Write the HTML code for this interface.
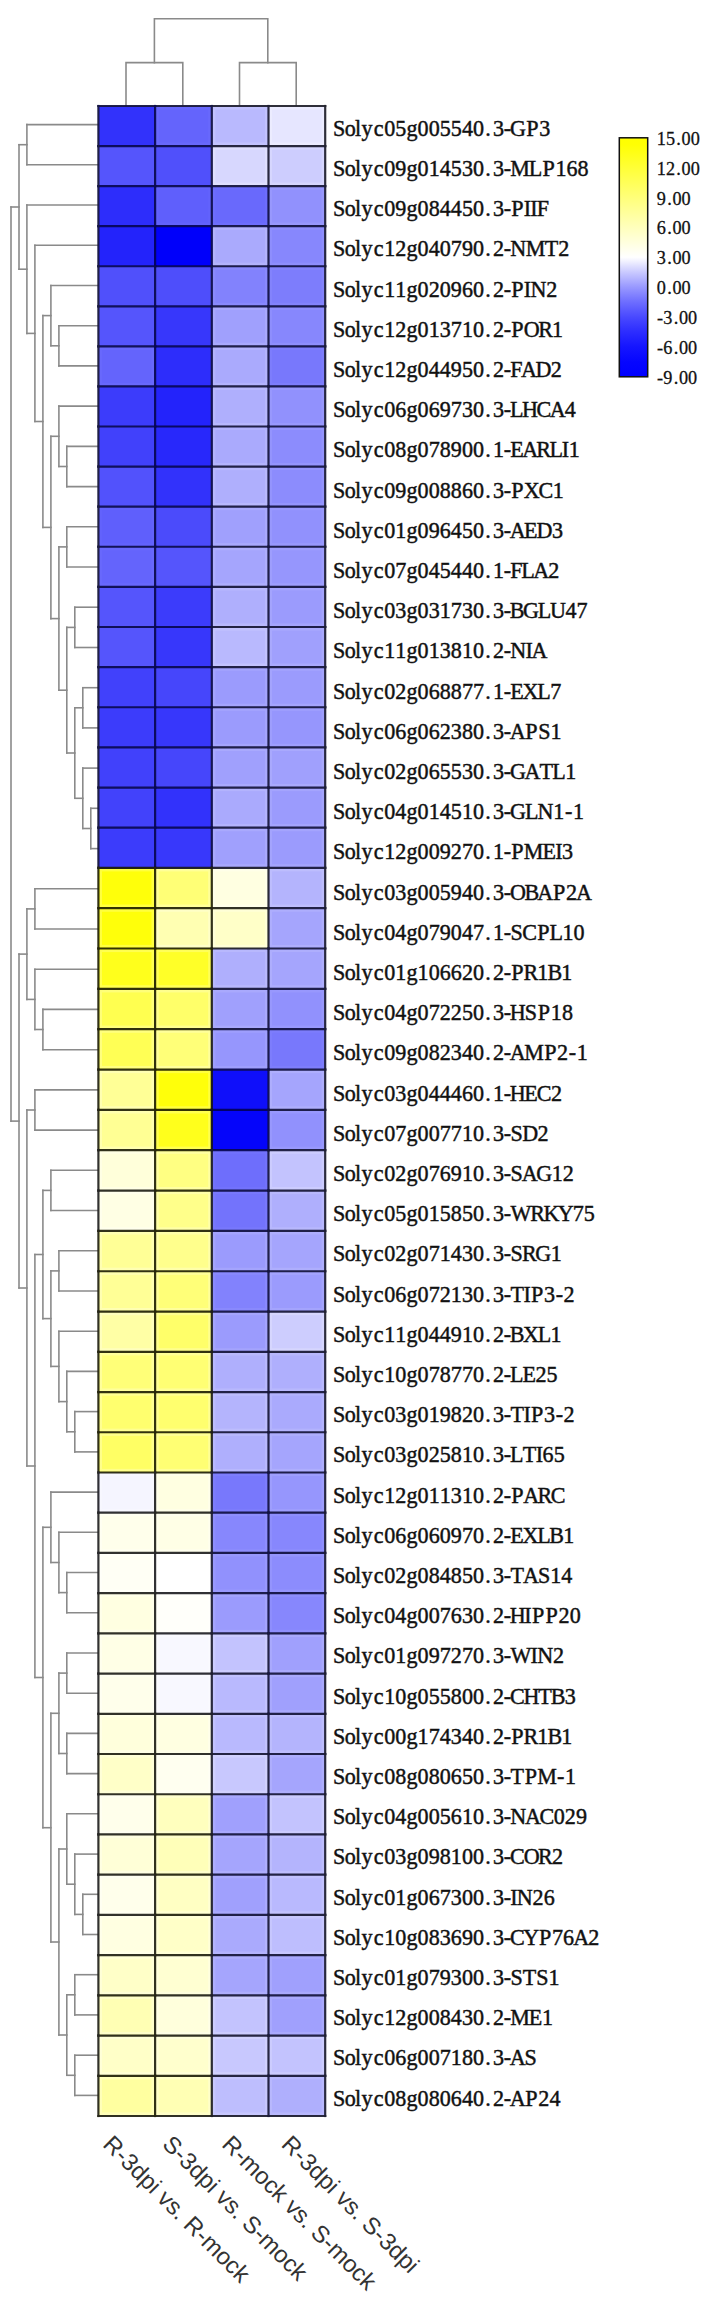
<!DOCTYPE html>
<html lang="en"><head><meta charset="utf-8"><title>Heatmap</title>
<style>html,body{margin:0;padding:0;background:#fff}svg{display:block}.rl{font-family:"Liberation Serif",serif;font-size:23.0px;fill:#111;stroke:#111;stroke-width:0.45px}.cl{font-family:"Liberation Sans",sans-serif;font-size:23.8px;fill:#333}.sl{font-family:"Liberation Serif",serif;font-size:19.6px;fill:#111;stroke:#111;stroke-width:0.3px}</style></head><body>
<svg width="707" height="2302" viewBox="0 0 707 2302">
<rect width="707" height="2302" fill="#fff"/>
<defs><linearGradient id="lg" x1="0" y1="0" x2="0" y2="1"><stop offset="0.0000" stop-color="#ffff00"/><stop offset="0.0300" stop-color="#ffff04"/><stop offset="0.5000" stop-color="#ffffff"/><stop offset="0.5625" stop-color="#c9c9ff"/><stop offset="0.6250" stop-color="#9898ff"/><stop offset="0.6875" stop-color="#6d6dff"/><stop offset="0.7500" stop-color="#4949ff"/><stop offset="0.8125" stop-color="#2c2cff"/><stop offset="0.8750" stop-color="#1515ff"/><stop offset="0.9375" stop-color="#0606ff"/><stop offset="1.0000" stop-color="#0000ff"/></linearGradient></defs>
<g stroke="#8a8a8a" stroke-width="1.6" fill="none" stroke-linecap="square">
<path d="M26.9 124.6L98.4 124.6"/>
<path d="M26.9 164.8L98.4 164.8"/>
<path d="M26.9 124.6L26.9 164.8"/>
<path d="M19.0 144.7L26.9 144.7"/>
<path d="M26.9 205.0L98.4 205.0"/>
<path d="M34.9 245.3L98.4 245.3"/>
<path d="M50.9 285.5L98.4 285.5"/>
<path d="M58.9 325.7L98.4 325.7"/>
<path d="M58.9 365.9L98.4 365.9"/>
<path d="M58.9 325.7L58.9 365.9"/>
<path d="M50.9 345.8L58.9 345.8"/>
<path d="M50.9 285.5L50.9 345.8"/>
<path d="M42.9 315.6L50.9 315.6"/>
<path d="M58.9 406.1L98.4 406.1"/>
<path d="M66.8 446.4L98.4 446.4"/>
<path d="M66.8 486.6L98.4 486.6"/>
<path d="M66.8 446.4L66.8 486.6"/>
<path d="M58.9 466.5L66.8 466.5"/>
<path d="M58.9 406.1L58.9 466.5"/>
<path d="M50.9 436.3L58.9 436.3"/>
<path d="M66.8 526.8L98.4 526.8"/>
<path d="M66.8 567.0L98.4 567.0"/>
<path d="M66.8 526.8L66.8 567.0"/>
<path d="M58.9 546.9L66.8 546.9"/>
<path d="M74.8 607.2L98.4 607.2"/>
<path d="M74.8 647.5L98.4 647.5"/>
<path d="M74.8 607.2L74.8 647.5"/>
<path d="M66.8 627.4L74.8 627.4"/>
<path d="M82.8 687.7L98.4 687.7"/>
<path d="M82.8 727.9L98.4 727.9"/>
<path d="M82.8 687.7L82.8 727.9"/>
<path d="M74.8 707.8L82.8 707.8"/>
<path d="M82.8 768.1L98.4 768.1"/>
<path d="M90.8 808.3L98.4 808.3"/>
<path d="M90.8 848.6L98.4 848.6"/>
<path d="M90.8 808.3L90.8 848.6"/>
<path d="M82.8 828.5L90.8 828.5"/>
<path d="M82.8 768.1L82.8 828.5"/>
<path d="M74.8 798.3L82.8 798.3"/>
<path d="M74.8 707.8L74.8 798.3"/>
<path d="M66.8 753.0L74.8 753.0"/>
<path d="M66.8 627.4L66.8 753.0"/>
<path d="M58.9 690.2L66.8 690.2"/>
<path d="M58.9 546.9L58.9 690.2"/>
<path d="M50.9 618.6L58.9 618.6"/>
<path d="M50.9 436.3L50.9 618.6"/>
<path d="M42.9 527.4L50.9 527.4"/>
<path d="M42.9 315.6L42.9 527.4"/>
<path d="M34.9 421.5L42.9 421.5"/>
<path d="M34.9 245.3L34.9 421.5"/>
<path d="M26.9 333.4L34.9 333.4"/>
<path d="M26.9 205.0L26.9 333.4"/>
<path d="M19.0 269.2L26.9 269.2"/>
<path d="M19.0 144.7L19.0 269.2"/>
<path d="M11.0 207.0L19.0 207.0"/>
<path d="M34.9 888.8L98.4 888.8"/>
<path d="M34.9 929.0L98.4 929.0"/>
<path d="M34.9 888.8L34.9 929.0"/>
<path d="M26.9 908.9L34.9 908.9"/>
<path d="M34.9 969.2L98.4 969.2"/>
<path d="M42.9 1009.4L98.4 1009.4"/>
<path d="M42.9 1049.7L98.4 1049.7"/>
<path d="M42.9 1009.4L42.9 1049.7"/>
<path d="M34.9 1029.5L42.9 1029.5"/>
<path d="M34.9 969.2L34.9 1029.5"/>
<path d="M26.9 999.4L34.9 999.4"/>
<path d="M26.9 908.9L26.9 999.4"/>
<path d="M19.0 954.1L26.9 954.1"/>
<path d="M34.9 1089.9L98.4 1089.9"/>
<path d="M34.9 1130.1L98.4 1130.1"/>
<path d="M34.9 1089.9L34.9 1130.1"/>
<path d="M26.9 1110.0L34.9 1110.0"/>
<path d="M50.9 1170.3L98.4 1170.3"/>
<path d="M50.9 1210.5L98.4 1210.5"/>
<path d="M50.9 1170.3L50.9 1210.5"/>
<path d="M42.9 1190.4L50.9 1190.4"/>
<path d="M58.9 1250.8L98.4 1250.8"/>
<path d="M58.9 1291.0L98.4 1291.0"/>
<path d="M58.9 1250.8L58.9 1291.0"/>
<path d="M50.9 1270.9L58.9 1270.9"/>
<path d="M58.9 1331.2L98.4 1331.2"/>
<path d="M66.8 1371.4L98.4 1371.4"/>
<path d="M74.8 1411.6L98.4 1411.6"/>
<path d="M74.8 1451.9L98.4 1451.9"/>
<path d="M74.8 1411.6L74.8 1451.9"/>
<path d="M66.8 1431.8L74.8 1431.8"/>
<path d="M66.8 1371.4L66.8 1431.8"/>
<path d="M58.9 1401.6L66.8 1401.6"/>
<path d="M58.9 1331.2L58.9 1401.6"/>
<path d="M50.9 1366.4L58.9 1366.4"/>
<path d="M50.9 1270.9L50.9 1366.4"/>
<path d="M42.9 1318.6L50.9 1318.6"/>
<path d="M42.9 1190.4L42.9 1318.6"/>
<path d="M34.9 1254.5L42.9 1254.5"/>
<path d="M50.9 1492.1L98.4 1492.1"/>
<path d="M58.9 1532.3L98.4 1532.3"/>
<path d="M66.8 1572.5L98.4 1572.5"/>
<path d="M66.8 1612.7L98.4 1612.7"/>
<path d="M66.8 1572.5L66.8 1612.7"/>
<path d="M58.9 1592.6L66.8 1592.6"/>
<path d="M58.9 1532.3L58.9 1592.6"/>
<path d="M50.9 1562.5L58.9 1562.5"/>
<path d="M50.9 1492.1L50.9 1562.5"/>
<path d="M42.9 1527.3L50.9 1527.3"/>
<path d="M66.8 1653.0L98.4 1653.0"/>
<path d="M66.8 1693.2L98.4 1693.2"/>
<path d="M66.8 1653.0L66.8 1693.2"/>
<path d="M58.9 1673.1L66.8 1673.1"/>
<path d="M66.8 1733.4L98.4 1733.4"/>
<path d="M66.8 1773.6L98.4 1773.6"/>
<path d="M66.8 1733.4L66.8 1773.6"/>
<path d="M58.9 1753.5L66.8 1753.5"/>
<path d="M58.9 1673.1L58.9 1753.5"/>
<path d="M50.9 1713.3L58.9 1713.3"/>
<path d="M66.8 1813.8L98.4 1813.8"/>
<path d="M74.8 1854.1L98.4 1854.1"/>
<path d="M82.8 1894.3L98.4 1894.3"/>
<path d="M82.8 1934.5L98.4 1934.5"/>
<path d="M82.8 1894.3L82.8 1934.5"/>
<path d="M74.8 1914.4L82.8 1914.4"/>
<path d="M74.8 1854.1L74.8 1914.4"/>
<path d="M66.8 1884.2L74.8 1884.2"/>
<path d="M66.8 1813.8L66.8 1884.2"/>
<path d="M58.9 1849.0L66.8 1849.0"/>
<path d="M74.8 1974.7L98.4 1974.7"/>
<path d="M74.8 2014.9L98.4 2014.9"/>
<path d="M74.8 1974.7L74.8 2014.9"/>
<path d="M66.8 1994.8L74.8 1994.8"/>
<path d="M74.8 2055.2L98.4 2055.2"/>
<path d="M74.8 2095.4L98.4 2095.4"/>
<path d="M74.8 2055.2L74.8 2095.4"/>
<path d="M66.8 2075.3L74.8 2075.3"/>
<path d="M66.8 1994.8L66.8 2075.3"/>
<path d="M58.9 2035.0L66.8 2035.0"/>
<path d="M58.9 1849.0L58.9 2035.0"/>
<path d="M50.9 1942.0L58.9 1942.0"/>
<path d="M50.9 1713.3L50.9 1942.0"/>
<path d="M42.9 1827.7L50.9 1827.7"/>
<path d="M42.9 1527.3L42.9 1827.7"/>
<path d="M34.9 1677.5L42.9 1677.5"/>
<path d="M34.9 1254.5L34.9 1677.5"/>
<path d="M26.9 1466.0L34.9 1466.0"/>
<path d="M26.9 1110.0L26.9 1466.0"/>
<path d="M19.0 1288.0L26.9 1288.0"/>
<path d="M19.0 954.1L19.0 1288.0"/>
<path d="M11.0 1121.1L19.0 1121.1"/>
<path d="M11.0 207.0L11.0 1121.1"/>
<path d="M126.0 106.0V62.6H182.8V106.0"/>
<path d="M239.5 106.0V62.6H296.2V106.0"/>
<path d="M154.4 62.6V18.7H267.8V62.6"/>
</g>
<g>
<rect x="98.40" y="106.00" width="56.70" height="40.06" fill="#3232fb"/>
<rect x="155.10" y="106.00" width="56.70" height="40.06" fill="#6464fc"/>
<rect x="211.80" y="106.00" width="56.70" height="40.06" fill="#b9b9fe"/>
<rect x="268.50" y="106.00" width="56.70" height="40.06" fill="#e6e6ff"/>
<rect x="98.40" y="146.06" width="56.70" height="40.06" fill="#5555fc"/>
<rect x="155.10" y="146.06" width="56.70" height="40.06" fill="#5050fb"/>
<rect x="211.80" y="146.06" width="56.70" height="40.06" fill="#d7d7fe"/>
<rect x="268.50" y="146.06" width="56.70" height="40.06" fill="#cdcdfe"/>
<rect x="98.40" y="186.12" width="56.70" height="40.06" fill="#2d2dfb"/>
<rect x="155.10" y="186.12" width="56.70" height="40.06" fill="#5f5ffc"/>
<rect x="211.80" y="186.12" width="56.70" height="40.06" fill="#6969fc"/>
<rect x="268.50" y="186.12" width="56.70" height="40.06" fill="#9191fd"/>
<rect x="98.40" y="226.18" width="56.70" height="40.06" fill="#2323fb"/>
<rect x="155.10" y="226.18" width="56.70" height="40.06" fill="#0000fa"/>
<rect x="211.80" y="226.18" width="56.70" height="40.06" fill="#aaaafd"/>
<rect x="268.50" y="226.18" width="56.70" height="40.06" fill="#8787fd"/>
<rect x="98.40" y="266.24" width="56.70" height="40.06" fill="#5050fb"/>
<rect x="155.10" y="266.24" width="56.70" height="40.06" fill="#4e4efb"/>
<rect x="211.80" y="266.24" width="56.70" height="40.06" fill="#8282fd"/>
<rect x="268.50" y="266.24" width="56.70" height="40.06" fill="#7d7dfc"/>
<rect x="98.40" y="306.30" width="56.70" height="40.06" fill="#5555fc"/>
<rect x="155.10" y="306.30" width="56.70" height="40.06" fill="#3737fb"/>
<rect x="211.80" y="306.30" width="56.70" height="40.06" fill="#a0a0fd"/>
<rect x="268.50" y="306.30" width="56.70" height="40.06" fill="#8787fd"/>
<rect x="98.40" y="346.36" width="56.70" height="40.06" fill="#6464fc"/>
<rect x="155.10" y="346.36" width="56.70" height="40.06" fill="#2d2dfb"/>
<rect x="211.80" y="346.36" width="56.70" height="40.06" fill="#aaaafd"/>
<rect x="268.50" y="346.36" width="56.70" height="40.06" fill="#7878fc"/>
<rect x="98.40" y="386.42" width="56.70" height="40.06" fill="#3c3cfb"/>
<rect x="155.10" y="386.42" width="56.70" height="40.06" fill="#2323fb"/>
<rect x="211.80" y="386.42" width="56.70" height="40.06" fill="#afaffd"/>
<rect x="268.50" y="386.42" width="56.70" height="40.06" fill="#9191fd"/>
<rect x="98.40" y="426.48" width="56.70" height="40.06" fill="#4141fb"/>
<rect x="155.10" y="426.48" width="56.70" height="40.06" fill="#2828fb"/>
<rect x="211.80" y="426.48" width="56.70" height="40.06" fill="#aaaafd"/>
<rect x="268.50" y="426.48" width="56.70" height="40.06" fill="#8c8cfd"/>
<rect x="98.40" y="466.54" width="56.70" height="40.06" fill="#5252fc"/>
<rect x="155.10" y="466.54" width="56.70" height="40.06" fill="#3232fb"/>
<rect x="211.80" y="466.54" width="56.70" height="40.06" fill="#afaffd"/>
<rect x="268.50" y="466.54" width="56.70" height="40.06" fill="#8c8cfd"/>
<rect x="98.40" y="506.60" width="56.70" height="40.13" fill="#5f5ffc"/>
<rect x="155.10" y="506.60" width="56.70" height="40.13" fill="#4b4bfb"/>
<rect x="211.80" y="506.60" width="56.70" height="40.13" fill="#a0a0fd"/>
<rect x="268.50" y="506.60" width="56.70" height="40.13" fill="#9191fd"/>
<rect x="98.40" y="546.73" width="56.70" height="40.13" fill="#6464fc"/>
<rect x="155.10" y="546.73" width="56.70" height="40.13" fill="#5555fc"/>
<rect x="211.80" y="546.73" width="56.70" height="40.13" fill="#a5a5fd"/>
<rect x="268.50" y="546.73" width="56.70" height="40.13" fill="#9696fd"/>
<rect x="98.40" y="586.87" width="56.70" height="40.13" fill="#5555fc"/>
<rect x="155.10" y="586.87" width="56.70" height="40.13" fill="#3c3cfb"/>
<rect x="211.80" y="586.87" width="56.70" height="40.13" fill="#afaffd"/>
<rect x="268.50" y="586.87" width="56.70" height="40.13" fill="#9b9bfd"/>
<rect x="98.40" y="627.00" width="56.70" height="40.13" fill="#5555fc"/>
<rect x="155.10" y="627.00" width="56.70" height="40.13" fill="#3737fb"/>
<rect x="211.80" y="627.00" width="56.70" height="40.13" fill="#b9b9fe"/>
<rect x="268.50" y="627.00" width="56.70" height="40.13" fill="#a0a0fd"/>
<rect x="98.40" y="667.13" width="56.70" height="40.13" fill="#4141fb"/>
<rect x="155.10" y="667.13" width="56.70" height="40.13" fill="#4646fb"/>
<rect x="211.80" y="667.13" width="56.70" height="40.13" fill="#9b9bfd"/>
<rect x="268.50" y="667.13" width="56.70" height="40.13" fill="#9b9bfd"/>
<rect x="98.40" y="707.27" width="56.70" height="40.13" fill="#3c3cfb"/>
<rect x="155.10" y="707.27" width="56.70" height="40.13" fill="#3737fb"/>
<rect x="211.80" y="707.27" width="56.70" height="40.13" fill="#9b9bfd"/>
<rect x="268.50" y="707.27" width="56.70" height="40.13" fill="#9696fd"/>
<rect x="98.40" y="747.40" width="56.70" height="40.13" fill="#4141fb"/>
<rect x="155.10" y="747.40" width="56.70" height="40.13" fill="#4646fb"/>
<rect x="211.80" y="747.40" width="56.70" height="40.13" fill="#a0a0fd"/>
<rect x="268.50" y="747.40" width="56.70" height="40.13" fill="#a0a0fd"/>
<rect x="98.40" y="787.53" width="56.70" height="40.13" fill="#4242fb"/>
<rect x="155.10" y="787.53" width="56.70" height="40.13" fill="#3232fb"/>
<rect x="211.80" y="787.53" width="56.70" height="40.13" fill="#aaaafd"/>
<rect x="268.50" y="787.53" width="56.70" height="40.13" fill="#9b9bfd"/>
<rect x="98.40" y="827.67" width="56.70" height="40.13" fill="#3c3cfb"/>
<rect x="155.10" y="827.67" width="56.70" height="40.13" fill="#3838fb"/>
<rect x="211.80" y="827.67" width="56.70" height="40.13" fill="#a0a0fd"/>
<rect x="268.50" y="827.67" width="56.70" height="40.13" fill="#9b9bfd"/>
<rect x="98.40" y="867.80" width="56.70" height="40.35" fill="#ffff0a"/>
<rect x="155.10" y="867.80" width="56.70" height="40.35" fill="#ffff76"/>
<rect x="211.80" y="867.80" width="56.70" height="40.35" fill="#ffffe1"/>
<rect x="268.50" y="867.80" width="56.70" height="40.35" fill="#b4b4fd"/>
<rect x="98.40" y="908.15" width="56.70" height="40.35" fill="#ffff0a"/>
<rect x="155.10" y="908.15" width="56.70" height="40.35" fill="#ffffb2"/>
<rect x="211.80" y="908.15" width="56.70" height="40.35" fill="#ffffc8"/>
<rect x="268.50" y="908.15" width="56.70" height="40.35" fill="#a5a5fd"/>
<rect x="98.40" y="948.49" width="56.70" height="40.35" fill="#ffff1c"/>
<rect x="155.10" y="948.49" width="56.70" height="40.35" fill="#ffff28"/>
<rect x="211.80" y="948.49" width="56.70" height="40.35" fill="#afaffd"/>
<rect x="268.50" y="948.49" width="56.70" height="40.35" fill="#a5a5fd"/>
<rect x="98.40" y="988.84" width="56.70" height="40.35" fill="#ffff50"/>
<rect x="155.10" y="988.84" width="56.70" height="40.35" fill="#ffff69"/>
<rect x="211.80" y="988.84" width="56.70" height="40.35" fill="#a0a0fd"/>
<rect x="268.50" y="988.84" width="56.70" height="40.35" fill="#9191fd"/>
<rect x="98.40" y="1029.18" width="56.70" height="40.35" fill="#ffff55"/>
<rect x="155.10" y="1029.18" width="56.70" height="40.35" fill="#ffff78"/>
<rect x="211.80" y="1029.18" width="56.70" height="40.35" fill="#9696fd"/>
<rect x="268.50" y="1029.18" width="56.70" height="40.35" fill="#7878fc"/>
<rect x="98.40" y="1069.53" width="56.70" height="40.35" fill="#ffff96"/>
<rect x="155.10" y="1069.53" width="56.70" height="40.35" fill="#ffff0a"/>
<rect x="211.80" y="1069.53" width="56.70" height="40.35" fill="#0f0ffa"/>
<rect x="268.50" y="1069.53" width="56.70" height="40.35" fill="#a5a5fd"/>
<rect x="98.40" y="1109.87" width="56.70" height="40.35" fill="#ffff94"/>
<rect x="155.10" y="1109.87" width="56.70" height="40.35" fill="#ffff1c"/>
<rect x="211.80" y="1109.87" width="56.70" height="40.35" fill="#0505fa"/>
<rect x="268.50" y="1109.87" width="56.70" height="40.35" fill="#9191fd"/>
<rect x="98.40" y="1150.22" width="56.70" height="40.35" fill="#ffffda"/>
<rect x="155.10" y="1150.22" width="56.70" height="40.35" fill="#ffff82"/>
<rect x="211.80" y="1150.22" width="56.70" height="40.35" fill="#6e6efc"/>
<rect x="268.50" y="1150.22" width="56.70" height="40.35" fill="#c3c3fe"/>
<rect x="98.40" y="1190.56" width="56.70" height="40.35" fill="#ffffe4"/>
<rect x="155.10" y="1190.56" width="56.70" height="40.35" fill="#ffff8a"/>
<rect x="211.80" y="1190.56" width="56.70" height="40.35" fill="#7373fc"/>
<rect x="268.50" y="1190.56" width="56.70" height="40.35" fill="#afaffd"/>
<rect x="98.40" y="1230.91" width="56.70" height="40.35" fill="#ffff96"/>
<rect x="155.10" y="1230.91" width="56.70" height="40.35" fill="#ffff8c"/>
<rect x="211.80" y="1230.91" width="56.70" height="40.35" fill="#9b9bfd"/>
<rect x="268.50" y="1230.91" width="56.70" height="40.35" fill="#a5a5fd"/>
<rect x="98.40" y="1271.25" width="56.70" height="40.35" fill="#ffff96"/>
<rect x="155.10" y="1271.25" width="56.70" height="40.35" fill="#ffff78"/>
<rect x="211.80" y="1271.25" width="56.70" height="40.35" fill="#8282fd"/>
<rect x="268.50" y="1271.25" width="56.70" height="40.35" fill="#9b9bfd"/>
<rect x="98.40" y="1311.60" width="56.70" height="40.22" fill="#ffffa5"/>
<rect x="155.10" y="1311.60" width="56.70" height="40.22" fill="#ffff69"/>
<rect x="211.80" y="1311.60" width="56.70" height="40.22" fill="#9b9bfd"/>
<rect x="268.50" y="1311.60" width="56.70" height="40.22" fill="#cdcdfe"/>
<rect x="98.40" y="1351.82" width="56.70" height="40.22" fill="#ffff78"/>
<rect x="155.10" y="1351.82" width="56.70" height="40.22" fill="#ffff73"/>
<rect x="211.80" y="1351.82" width="56.70" height="40.22" fill="#afaffd"/>
<rect x="268.50" y="1351.82" width="56.70" height="40.22" fill="#afaffd"/>
<rect x="98.40" y="1392.04" width="56.70" height="40.22" fill="#ffff6e"/>
<rect x="155.10" y="1392.04" width="56.70" height="40.22" fill="#ffff6e"/>
<rect x="211.80" y="1392.04" width="56.70" height="40.22" fill="#b4b4fd"/>
<rect x="268.50" y="1392.04" width="56.70" height="40.22" fill="#aaaafd"/>
<rect x="98.40" y="1432.26" width="56.70" height="40.22" fill="#ffff64"/>
<rect x="155.10" y="1432.26" width="56.70" height="40.22" fill="#ffff73"/>
<rect x="211.80" y="1432.26" width="56.70" height="40.22" fill="#afaffd"/>
<rect x="268.50" y="1432.26" width="56.70" height="40.22" fill="#a5a5fd"/>
<rect x="98.40" y="1472.48" width="56.70" height="40.22" fill="#f5f5ff"/>
<rect x="155.10" y="1472.48" width="56.70" height="40.22" fill="#ffffe1"/>
<rect x="211.80" y="1472.48" width="56.70" height="40.22" fill="#7878fc"/>
<rect x="268.50" y="1472.48" width="56.70" height="40.22" fill="#9696fd"/>
<rect x="98.40" y="1512.70" width="56.70" height="40.22" fill="#ffffeb"/>
<rect x="155.10" y="1512.70" width="56.70" height="40.22" fill="#ffffe6"/>
<rect x="211.80" y="1512.70" width="56.70" height="40.22" fill="#8787fd"/>
<rect x="268.50" y="1512.70" width="56.70" height="40.22" fill="#8787fd"/>
<rect x="98.40" y="1552.92" width="56.70" height="40.22" fill="#fffff5"/>
<rect x="155.10" y="1552.92" width="56.70" height="40.22" fill="#ffffff"/>
<rect x="211.80" y="1552.92" width="56.70" height="40.22" fill="#9191fd"/>
<rect x="268.50" y="1552.92" width="56.70" height="40.22" fill="#8c8cfd"/>
<rect x="98.40" y="1593.14" width="56.70" height="40.22" fill="#ffffe1"/>
<rect x="155.10" y="1593.14" width="56.70" height="40.22" fill="#fffffa"/>
<rect x="211.80" y="1593.14" width="56.70" height="40.22" fill="#9b9bfd"/>
<rect x="268.50" y="1593.14" width="56.70" height="40.22" fill="#8787fd"/>
<rect x="98.40" y="1633.36" width="56.70" height="40.22" fill="#ffffe6"/>
<rect x="155.10" y="1633.36" width="56.70" height="40.22" fill="#f8f8ff"/>
<rect x="211.80" y="1633.36" width="56.70" height="40.22" fill="#c3c3fe"/>
<rect x="268.50" y="1633.36" width="56.70" height="40.22" fill="#a0a0fd"/>
<rect x="98.40" y="1673.58" width="56.70" height="40.22" fill="#ffffeb"/>
<rect x="155.10" y="1673.58" width="56.70" height="40.22" fill="#f8f8ff"/>
<rect x="211.80" y="1673.58" width="56.70" height="40.22" fill="#b9b9fe"/>
<rect x="268.50" y="1673.58" width="56.70" height="40.22" fill="#a0a0fd"/>
<rect x="98.40" y="1713.80" width="56.70" height="40.22" fill="#ffffdc"/>
<rect x="155.10" y="1713.80" width="56.70" height="40.22" fill="#ffffe1"/>
<rect x="211.80" y="1713.80" width="56.70" height="40.22" fill="#b9b9fe"/>
<rect x="268.50" y="1713.80" width="56.70" height="40.22" fill="#b4b4fd"/>
<rect x="98.40" y="1754.02" width="56.70" height="40.22" fill="#ffffc8"/>
<rect x="155.10" y="1754.02" width="56.70" height="40.22" fill="#fffff0"/>
<rect x="211.80" y="1754.02" width="56.70" height="40.22" fill="#c8c8fe"/>
<rect x="268.50" y="1754.02" width="56.70" height="40.22" fill="#a5a5fd"/>
<rect x="98.40" y="1794.24" width="56.70" height="40.22" fill="#ffffeb"/>
<rect x="155.10" y="1794.24" width="56.70" height="40.22" fill="#ffffbe"/>
<rect x="211.80" y="1794.24" width="56.70" height="40.22" fill="#a0a0fd"/>
<rect x="268.50" y="1794.24" width="56.70" height="40.22" fill="#c3c3fe"/>
<rect x="98.40" y="1834.46" width="56.70" height="40.22" fill="#ffffd7"/>
<rect x="155.10" y="1834.46" width="56.70" height="40.22" fill="#ffffb9"/>
<rect x="211.80" y="1834.46" width="56.70" height="40.22" fill="#a5a5fd"/>
<rect x="268.50" y="1834.46" width="56.70" height="40.22" fill="#b4b4fd"/>
<rect x="98.40" y="1874.68" width="56.70" height="40.22" fill="#ffffeb"/>
<rect x="155.10" y="1874.68" width="56.70" height="40.22" fill="#ffffc3"/>
<rect x="211.80" y="1874.68" width="56.70" height="40.22" fill="#a0a0fd"/>
<rect x="268.50" y="1874.68" width="56.70" height="40.22" fill="#b9b9fe"/>
<rect x="98.40" y="1914.90" width="56.70" height="40.22" fill="#ffffe1"/>
<rect x="155.10" y="1914.90" width="56.70" height="40.22" fill="#ffffc8"/>
<rect x="211.80" y="1914.90" width="56.70" height="40.22" fill="#aaaafd"/>
<rect x="268.50" y="1914.90" width="56.70" height="40.22" fill="#bebefe"/>
<rect x="98.40" y="1955.12" width="56.70" height="40.22" fill="#ffffc8"/>
<rect x="155.10" y="1955.12" width="56.70" height="40.22" fill="#ffffd2"/>
<rect x="211.80" y="1955.12" width="56.70" height="40.22" fill="#a5a5fd"/>
<rect x="268.50" y="1955.12" width="56.70" height="40.22" fill="#a0a0fd"/>
<rect x="98.40" y="1995.34" width="56.70" height="40.22" fill="#ffffb4"/>
<rect x="155.10" y="1995.34" width="56.70" height="40.22" fill="#ffffdc"/>
<rect x="211.80" y="1995.34" width="56.70" height="40.22" fill="#c3c3fe"/>
<rect x="268.50" y="1995.34" width="56.70" height="40.22" fill="#a0a0fd"/>
<rect x="98.40" y="2035.56" width="56.70" height="40.22" fill="#ffffc8"/>
<rect x="155.10" y="2035.56" width="56.70" height="40.22" fill="#ffffcd"/>
<rect x="211.80" y="2035.56" width="56.70" height="40.22" fill="#c8c8fe"/>
<rect x="268.50" y="2035.56" width="56.70" height="40.22" fill="#c3c3fe"/>
<rect x="98.40" y="2075.78" width="56.70" height="40.22" fill="#ffffa0"/>
<rect x="155.10" y="2075.78" width="56.70" height="40.22" fill="#ffffb4"/>
<rect x="211.80" y="2075.78" width="56.70" height="40.22" fill="#bebefe"/>
<rect x="268.50" y="2075.78" width="56.70" height="40.22" fill="#afaffd"/>
</g>
<g stroke="#fff" stroke-width="2.6" fill="none">
<rect x="157.40" y="108.30" width="52.10" height="35.46" stroke-opacity="0.03"/>
<rect x="214.10" y="108.30" width="52.10" height="35.46" stroke-opacity="0.14"/>
<rect x="270.80" y="108.30" width="52.10" height="35.46" stroke-opacity="0.24"/>
<rect x="214.10" y="148.36" width="52.10" height="35.46" stroke-opacity="0.20"/>
<rect x="270.80" y="148.36" width="52.10" height="35.46" stroke-opacity="0.18"/>
<rect x="157.40" y="188.42" width="52.10" height="35.46" stroke-opacity="0.02"/>
<rect x="214.10" y="188.42" width="52.10" height="35.46" stroke-opacity="0.03"/>
<rect x="270.80" y="188.42" width="52.10" height="35.46" stroke-opacity="0.07"/>
<rect x="214.10" y="228.48" width="52.10" height="35.46" stroke-opacity="0.11"/>
<rect x="270.80" y="228.48" width="52.10" height="35.46" stroke-opacity="0.06"/>
<rect x="214.10" y="268.54" width="52.10" height="35.46" stroke-opacity="0.06"/>
<rect x="270.80" y="268.54" width="52.10" height="35.46" stroke-opacity="0.05"/>
<rect x="214.10" y="308.60" width="52.10" height="35.46" stroke-opacity="0.10"/>
<rect x="270.80" y="308.60" width="52.10" height="35.46" stroke-opacity="0.06"/>
<rect x="100.70" y="348.66" width="52.10" height="35.46" stroke-opacity="0.03"/>
<rect x="214.10" y="348.66" width="52.10" height="35.46" stroke-opacity="0.11"/>
<rect x="270.80" y="348.66" width="52.10" height="35.46" stroke-opacity="0.04"/>
<rect x="214.10" y="388.72" width="52.10" height="35.46" stroke-opacity="0.12"/>
<rect x="270.80" y="388.72" width="52.10" height="35.46" stroke-opacity="0.07"/>
<rect x="214.10" y="428.78" width="52.10" height="35.46" stroke-opacity="0.11"/>
<rect x="270.80" y="428.78" width="52.10" height="35.46" stroke-opacity="0.07"/>
<rect x="214.10" y="468.84" width="52.10" height="35.46" stroke-opacity="0.12"/>
<rect x="270.80" y="468.84" width="52.10" height="35.46" stroke-opacity="0.07"/>
<rect x="100.70" y="508.90" width="52.10" height="35.53" stroke-opacity="0.02"/>
<rect x="214.10" y="508.90" width="52.10" height="35.53" stroke-opacity="0.10"/>
<rect x="270.80" y="508.90" width="52.10" height="35.53" stroke-opacity="0.07"/>
<rect x="100.70" y="549.03" width="52.10" height="35.53" stroke-opacity="0.03"/>
<rect x="214.10" y="549.03" width="52.10" height="35.53" stroke-opacity="0.10"/>
<rect x="270.80" y="549.03" width="52.10" height="35.53" stroke-opacity="0.08"/>
<rect x="214.10" y="589.17" width="52.10" height="35.53" stroke-opacity="0.12"/>
<rect x="270.80" y="589.17" width="52.10" height="35.53" stroke-opacity="0.09"/>
<rect x="214.10" y="629.30" width="52.10" height="35.53" stroke-opacity="0.14"/>
<rect x="270.80" y="629.30" width="52.10" height="35.53" stroke-opacity="0.10"/>
<rect x="214.10" y="669.43" width="52.10" height="35.53" stroke-opacity="0.09"/>
<rect x="270.80" y="669.43" width="52.10" height="35.53" stroke-opacity="0.09"/>
<rect x="214.10" y="709.57" width="52.10" height="35.53" stroke-opacity="0.09"/>
<rect x="270.80" y="709.57" width="52.10" height="35.53" stroke-opacity="0.08"/>
<rect x="214.10" y="749.70" width="52.10" height="35.53" stroke-opacity="0.10"/>
<rect x="270.80" y="749.70" width="52.10" height="35.53" stroke-opacity="0.10"/>
<rect x="214.10" y="789.83" width="52.10" height="35.53" stroke-opacity="0.11"/>
<rect x="270.80" y="789.83" width="52.10" height="35.53" stroke-opacity="0.09"/>
<rect x="214.10" y="829.97" width="52.10" height="35.53" stroke-opacity="0.10"/>
<rect x="270.80" y="829.97" width="52.10" height="35.53" stroke-opacity="0.09"/>
<rect x="100.70" y="870.10" width="52.10" height="35.75" stroke-opacity="0.22"/>
<rect x="157.40" y="870.10" width="52.10" height="35.75" stroke-opacity="0.26"/>
<rect x="214.10" y="870.10" width="52.10" height="35.75" stroke-opacity="0.29"/>
<rect x="270.80" y="870.10" width="52.10" height="35.75" stroke-opacity="0.13"/>
<rect x="100.70" y="910.45" width="52.10" height="35.75" stroke-opacity="0.22"/>
<rect x="157.40" y="910.45" width="52.10" height="35.75" stroke-opacity="0.27"/>
<rect x="214.10" y="910.45" width="52.10" height="35.75" stroke-opacity="0.28"/>
<rect x="270.80" y="910.45" width="52.10" height="35.75" stroke-opacity="0.10"/>
<rect x="100.70" y="950.79" width="52.10" height="35.75" stroke-opacity="0.23"/>
<rect x="157.40" y="950.79" width="52.10" height="35.75" stroke-opacity="0.23"/>
<rect x="214.10" y="950.79" width="52.10" height="35.75" stroke-opacity="0.12"/>
<rect x="270.80" y="950.79" width="52.10" height="35.75" stroke-opacity="0.10"/>
<rect x="100.70" y="991.14" width="52.10" height="35.75" stroke-opacity="0.24"/>
<rect x="157.40" y="991.14" width="52.10" height="35.75" stroke-opacity="0.25"/>
<rect x="214.10" y="991.14" width="52.10" height="35.75" stroke-opacity="0.10"/>
<rect x="270.80" y="991.14" width="52.10" height="35.75" stroke-opacity="0.07"/>
<rect x="100.70" y="1031.48" width="52.10" height="35.75" stroke-opacity="0.25"/>
<rect x="157.40" y="1031.48" width="52.10" height="35.75" stroke-opacity="0.26"/>
<rect x="214.10" y="1031.48" width="52.10" height="35.75" stroke-opacity="0.08"/>
<rect x="270.80" y="1031.48" width="52.10" height="35.75" stroke-opacity="0.04"/>
<rect x="100.70" y="1071.83" width="52.10" height="35.75" stroke-opacity="0.27"/>
<rect x="157.40" y="1071.83" width="52.10" height="35.75" stroke-opacity="0.22"/>
<rect x="270.80" y="1071.83" width="52.10" height="35.75" stroke-opacity="0.10"/>
<rect x="100.70" y="1112.17" width="52.10" height="35.75" stroke-opacity="0.26"/>
<rect x="157.40" y="1112.17" width="52.10" height="35.75" stroke-opacity="0.23"/>
<rect x="270.80" y="1112.17" width="52.10" height="35.75" stroke-opacity="0.07"/>
<rect x="100.70" y="1152.52" width="52.10" height="35.75" stroke-opacity="0.29"/>
<rect x="157.40" y="1152.52" width="52.10" height="35.75" stroke-opacity="0.26"/>
<rect x="214.10" y="1152.52" width="52.10" height="35.75" stroke-opacity="0.03"/>
<rect x="270.80" y="1152.52" width="52.10" height="35.75" stroke-opacity="0.16"/>
<rect x="100.70" y="1192.86" width="52.10" height="35.75" stroke-opacity="0.29"/>
<rect x="157.40" y="1192.86" width="52.10" height="35.75" stroke-opacity="0.26"/>
<rect x="214.10" y="1192.86" width="52.10" height="35.75" stroke-opacity="0.04"/>
<rect x="270.80" y="1192.86" width="52.10" height="35.75" stroke-opacity="0.12"/>
<rect x="100.70" y="1233.21" width="52.10" height="35.75" stroke-opacity="0.27"/>
<rect x="157.40" y="1233.21" width="52.10" height="35.75" stroke-opacity="0.26"/>
<rect x="214.10" y="1233.21" width="52.10" height="35.75" stroke-opacity="0.09"/>
<rect x="270.80" y="1233.21" width="52.10" height="35.75" stroke-opacity="0.10"/>
<rect x="100.70" y="1273.55" width="52.10" height="35.75" stroke-opacity="0.27"/>
<rect x="157.40" y="1273.55" width="52.10" height="35.75" stroke-opacity="0.26"/>
<rect x="214.10" y="1273.55" width="52.10" height="35.75" stroke-opacity="0.06"/>
<rect x="270.80" y="1273.55" width="52.10" height="35.75" stroke-opacity="0.09"/>
<rect x="100.70" y="1313.90" width="52.10" height="35.62" stroke-opacity="0.27"/>
<rect x="157.40" y="1313.90" width="52.10" height="35.62" stroke-opacity="0.25"/>
<rect x="214.10" y="1313.90" width="52.10" height="35.62" stroke-opacity="0.09"/>
<rect x="270.80" y="1313.90" width="52.10" height="35.62" stroke-opacity="0.18"/>
<rect x="100.70" y="1354.12" width="52.10" height="35.62" stroke-opacity="0.26"/>
<rect x="157.40" y="1354.12" width="52.10" height="35.62" stroke-opacity="0.25"/>
<rect x="214.10" y="1354.12" width="52.10" height="35.62" stroke-opacity="0.12"/>
<rect x="270.80" y="1354.12" width="52.10" height="35.62" stroke-opacity="0.12"/>
<rect x="100.70" y="1394.34" width="52.10" height="35.62" stroke-opacity="0.25"/>
<rect x="157.40" y="1394.34" width="52.10" height="35.62" stroke-opacity="0.25"/>
<rect x="214.10" y="1394.34" width="52.10" height="35.62" stroke-opacity="0.13"/>
<rect x="270.80" y="1394.34" width="52.10" height="35.62" stroke-opacity="0.11"/>
<rect x="100.70" y="1434.56" width="52.10" height="35.62" stroke-opacity="0.25"/>
<rect x="157.40" y="1434.56" width="52.10" height="35.62" stroke-opacity="0.25"/>
<rect x="214.10" y="1434.56" width="52.10" height="35.62" stroke-opacity="0.12"/>
<rect x="270.80" y="1434.56" width="52.10" height="35.62" stroke-opacity="0.10"/>
<rect x="100.70" y="1474.78" width="52.10" height="35.62" stroke-opacity="0.27"/>
<rect x="157.40" y="1474.78" width="52.10" height="35.62" stroke-opacity="0.29"/>
<rect x="214.10" y="1474.78" width="52.10" height="35.62" stroke-opacity="0.04"/>
<rect x="270.80" y="1474.78" width="52.10" height="35.62" stroke-opacity="0.08"/>
<rect x="100.70" y="1515.00" width="52.10" height="35.62" stroke-opacity="0.29"/>
<rect x="157.40" y="1515.00" width="52.10" height="35.62" stroke-opacity="0.29"/>
<rect x="214.10" y="1515.00" width="52.10" height="35.62" stroke-opacity="0.06"/>
<rect x="270.80" y="1515.00" width="52.10" height="35.62" stroke-opacity="0.06"/>
<rect x="100.70" y="1555.22" width="52.10" height="35.62" stroke-opacity="0.30"/>
<rect x="157.40" y="1555.22" width="52.10" height="35.62" stroke-opacity="0.30"/>
<rect x="214.10" y="1555.22" width="52.10" height="35.62" stroke-opacity="0.07"/>
<rect x="270.80" y="1555.22" width="52.10" height="35.62" stroke-opacity="0.07"/>
<rect x="100.70" y="1595.44" width="52.10" height="35.62" stroke-opacity="0.29"/>
<rect x="157.40" y="1595.44" width="52.10" height="35.62" stroke-opacity="0.30"/>
<rect x="214.10" y="1595.44" width="52.10" height="35.62" stroke-opacity="0.09"/>
<rect x="270.80" y="1595.44" width="52.10" height="35.62" stroke-opacity="0.06"/>
<rect x="100.70" y="1635.66" width="52.10" height="35.62" stroke-opacity="0.29"/>
<rect x="157.40" y="1635.66" width="52.10" height="35.62" stroke-opacity="0.28"/>
<rect x="214.10" y="1635.66" width="52.10" height="35.62" stroke-opacity="0.16"/>
<rect x="270.80" y="1635.66" width="52.10" height="35.62" stroke-opacity="0.10"/>
<rect x="100.70" y="1675.88" width="52.10" height="35.62" stroke-opacity="0.29"/>
<rect x="157.40" y="1675.88" width="52.10" height="35.62" stroke-opacity="0.28"/>
<rect x="214.10" y="1675.88" width="52.10" height="35.62" stroke-opacity="0.14"/>
<rect x="270.80" y="1675.88" width="52.10" height="35.62" stroke-opacity="0.10"/>
<rect x="100.70" y="1716.10" width="52.10" height="35.62" stroke-opacity="0.29"/>
<rect x="157.40" y="1716.10" width="52.10" height="35.62" stroke-opacity="0.29"/>
<rect x="214.10" y="1716.10" width="52.10" height="35.62" stroke-opacity="0.14"/>
<rect x="270.80" y="1716.10" width="52.10" height="35.62" stroke-opacity="0.13"/>
<rect x="100.70" y="1756.32" width="52.10" height="35.62" stroke-opacity="0.28"/>
<rect x="157.40" y="1756.32" width="52.10" height="35.62" stroke-opacity="0.29"/>
<rect x="214.10" y="1756.32" width="52.10" height="35.62" stroke-opacity="0.17"/>
<rect x="270.80" y="1756.32" width="52.10" height="35.62" stroke-opacity="0.10"/>
<rect x="100.70" y="1796.54" width="52.10" height="35.62" stroke-opacity="0.29"/>
<rect x="157.40" y="1796.54" width="52.10" height="35.62" stroke-opacity="0.28"/>
<rect x="214.10" y="1796.54" width="52.10" height="35.62" stroke-opacity="0.10"/>
<rect x="270.80" y="1796.54" width="52.10" height="35.62" stroke-opacity="0.16"/>
<rect x="100.70" y="1836.76" width="52.10" height="35.62" stroke-opacity="0.29"/>
<rect x="157.40" y="1836.76" width="52.10" height="35.62" stroke-opacity="0.28"/>
<rect x="214.10" y="1836.76" width="52.10" height="35.62" stroke-opacity="0.10"/>
<rect x="270.80" y="1836.76" width="52.10" height="35.62" stroke-opacity="0.13"/>
<rect x="100.70" y="1876.98" width="52.10" height="35.62" stroke-opacity="0.29"/>
<rect x="157.40" y="1876.98" width="52.10" height="35.62" stroke-opacity="0.28"/>
<rect x="214.10" y="1876.98" width="52.10" height="35.62" stroke-opacity="0.10"/>
<rect x="270.80" y="1876.98" width="52.10" height="35.62" stroke-opacity="0.14"/>
<rect x="100.70" y="1917.20" width="52.10" height="35.62" stroke-opacity="0.29"/>
<rect x="157.40" y="1917.20" width="52.10" height="35.62" stroke-opacity="0.28"/>
<rect x="214.10" y="1917.20" width="52.10" height="35.62" stroke-opacity="0.11"/>
<rect x="270.80" y="1917.20" width="52.10" height="35.62" stroke-opacity="0.15"/>
<rect x="100.70" y="1957.42" width="52.10" height="35.62" stroke-opacity="0.28"/>
<rect x="157.40" y="1957.42" width="52.10" height="35.62" stroke-opacity="0.28"/>
<rect x="214.10" y="1957.42" width="52.10" height="35.62" stroke-opacity="0.10"/>
<rect x="270.80" y="1957.42" width="52.10" height="35.62" stroke-opacity="0.10"/>
<rect x="100.70" y="1997.64" width="52.10" height="35.62" stroke-opacity="0.28"/>
<rect x="157.40" y="1997.64" width="52.10" height="35.62" stroke-opacity="0.29"/>
<rect x="214.10" y="1997.64" width="52.10" height="35.62" stroke-opacity="0.16"/>
<rect x="270.80" y="1997.64" width="52.10" height="35.62" stroke-opacity="0.10"/>
<rect x="100.70" y="2037.86" width="52.10" height="35.62" stroke-opacity="0.28"/>
<rect x="157.40" y="2037.86" width="52.10" height="35.62" stroke-opacity="0.28"/>
<rect x="214.10" y="2037.86" width="52.10" height="35.62" stroke-opacity="0.17"/>
<rect x="270.80" y="2037.86" width="52.10" height="35.62" stroke-opacity="0.16"/>
<rect x="100.70" y="2078.08" width="52.10" height="35.62" stroke-opacity="0.27"/>
<rect x="157.40" y="2078.08" width="52.10" height="35.62" stroke-opacity="0.28"/>
<rect x="214.10" y="2078.08" width="52.10" height="35.62" stroke-opacity="0.15"/>
<rect x="270.80" y="2078.08" width="52.10" height="35.62" stroke-opacity="0.12"/>
</g>
<g stroke-width="2.2" fill="none" stroke-opacity="0.95" stroke-linecap="square">
<path stroke="#161641" d="M98.40 106.00H155.10"/>
<path stroke="#1a1a3c" d="M155.10 106.00H211.80"/>
<path stroke="#212133" d="M211.80 106.00H268.50"/>
<path stroke="#24242e" d="M268.50 106.00H325.20"/>
<path stroke="#0a0a54" d="M98.40 146.06H155.10"/>
<path stroke="#0d0d4f" d="M155.10 146.06H211.80"/>
<path stroke="#1e1e37" d="M211.80 146.06H268.50"/>
<path stroke="#202033" d="M268.50 146.06H325.20"/>
<path stroke="#090955" d="M98.40 186.12H155.10"/>
<path stroke="#0d0d50" d="M155.10 186.12H211.80"/>
<path stroke="#181840" d="M211.80 186.12H268.50"/>
<path stroke="#1a1a3c" d="M268.50 186.12H325.20"/>
<path stroke="#06065a" d="M98.40 226.18H155.10"/>
<path stroke="#070759" d="M155.10 226.18H211.80"/>
<path stroke="#141445" d="M211.80 226.18H268.50"/>
<path stroke="#151544" d="M268.50 226.18H325.20"/>
<path stroke="#080856" d="M98.40 266.24H155.10"/>
<path stroke="#05055a" d="M155.10 266.24H211.80"/>
<path stroke="#161642" d="M211.80 266.24H268.50"/>
<path stroke="#131346" d="M268.50 266.24H325.20"/>
<path stroke="#0c0c51" d="M98.40 306.30H155.10"/>
<path stroke="#090954" d="M155.10 306.30H211.80"/>
<path stroke="#151543" d="M211.80 306.30H268.50"/>
<path stroke="#131346" d="M268.50 306.30H325.20"/>
<path stroke="#0d0d4f" d="M98.40 346.36H155.10"/>
<path stroke="#070758" d="M155.10 346.36H211.80"/>
<path stroke="#18183f" d="M211.80 346.36H268.50"/>
<path stroke="#131347" d="M268.50 346.36H325.20"/>
<path stroke="#0c0c51" d="M98.40 386.42H155.10"/>
<path stroke="#06065a" d="M155.10 386.42H211.80"/>
<path stroke="#19193d" d="M211.80 386.42H268.50"/>
<path stroke="#131346" d="M268.50 386.42H325.20"/>
<path stroke="#090955" d="M98.40 426.48H155.10"/>
<path stroke="#05055b" d="M155.10 426.48H211.80"/>
<path stroke="#19193d" d="M211.80 426.48H268.50"/>
<path stroke="#151544" d="M268.50 426.48H325.20"/>
<path stroke="#0b0b53" d="M98.40 466.54H155.10"/>
<path stroke="#060659" d="M155.10 466.54H211.80"/>
<path stroke="#19193d" d="M211.80 466.54H268.50"/>
<path stroke="#151544" d="M268.50 466.54H325.20"/>
<path stroke="#0d0d4f" d="M98.40 506.60H155.10"/>
<path stroke="#090955" d="M155.10 506.60H211.80"/>
<path stroke="#19193e" d="M211.80 506.60H268.50"/>
<path stroke="#151544" d="M268.50 506.60H325.20"/>
<path stroke="#0e0e4e" d="M98.40 546.73H155.10"/>
<path stroke="#0c0c51" d="M155.10 546.73H211.80"/>
<path stroke="#18183f" d="M211.80 546.73H268.50"/>
<path stroke="#161643" d="M268.50 546.73H325.20"/>
<path stroke="#0d0d4f" d="M98.40 586.87H155.10"/>
<path stroke="#0a0a53" d="M155.10 586.87H211.80"/>
<path stroke="#19193e" d="M211.80 586.87H268.50"/>
<path stroke="#161641" d="M268.50 586.87H325.20"/>
<path stroke="#0c0c50" d="M98.40 627.00H155.10"/>
<path stroke="#080856" d="M155.10 627.00H211.80"/>
<path stroke="#1b1b3b" d="M211.80 627.00H268.50"/>
<path stroke="#171740" d="M268.50 627.00H325.20"/>
<path stroke="#0b0b52" d="M98.40 667.13H155.10"/>
<path stroke="#090955" d="M155.10 667.13H211.80"/>
<path stroke="#19193e" d="M211.80 667.13H268.50"/>
<path stroke="#171740" d="M268.50 667.13H325.20"/>
<path stroke="#090955" d="M98.40 707.27H155.10"/>
<path stroke="#090955" d="M155.10 707.27H211.80"/>
<path stroke="#171741" d="M211.80 707.27H268.50"/>
<path stroke="#161641" d="M268.50 707.27H325.20"/>
<path stroke="#090955" d="M98.40 747.40H155.10"/>
<path stroke="#090955" d="M155.10 747.40H211.80"/>
<path stroke="#171740" d="M211.80 747.40H268.50"/>
<path stroke="#171741" d="M268.50 747.40H325.20"/>
<path stroke="#090955" d="M98.40 787.53H155.10"/>
<path stroke="#090956" d="M155.10 787.53H211.80"/>
<path stroke="#18183f" d="M211.80 787.53H268.50"/>
<path stroke="#171740" d="M268.50 787.53H325.20"/>
<path stroke="#090955" d="M98.40 827.67H155.10"/>
<path stroke="#070757" d="M155.10 827.67H211.80"/>
<path stroke="#18183f" d="M211.80 827.67H268.50"/>
<path stroke="#171741" d="M268.50 827.67H325.20"/>
<path stroke="#171711" d="M98.40 867.80H155.10"/>
<path stroke="#171726" d="M155.10 867.80H211.80"/>
<path stroke="#1f1f2f" d="M211.80 867.80H268.50"/>
<path stroke="#19193e" d="M268.50 867.80H325.20"/>
<path stroke="#262600" d="M98.40 908.15H155.10"/>
<path stroke="#26260b" d="M155.10 908.15H211.80"/>
<path stroke="#26261a" d="M211.80 908.15H268.50"/>
<path stroke="#19193d" d="M268.50 908.15H325.20"/>
<path stroke="#262601" d="M98.40 948.49H155.10"/>
<path stroke="#262608" d="M155.10 948.49H211.80"/>
<path stroke="#202029" d="M211.80 948.49H268.50"/>
<path stroke="#18183f" d="M268.50 948.49H325.20"/>
<path stroke="#262604" d="M98.40 988.84H155.10"/>
<path stroke="#262605" d="M155.10 988.84H211.80"/>
<path stroke="#19193e" d="M211.80 988.84H268.50"/>
<path stroke="#171741" d="M268.50 988.84H325.20"/>
<path stroke="#262606" d="M98.40 1029.18H155.10"/>
<path stroke="#262609" d="M155.10 1029.18H211.80"/>
<path stroke="#171741" d="M211.80 1029.18H268.50"/>
<path stroke="#131346" d="M268.50 1029.18H325.20"/>
<path stroke="#262609" d="M98.40 1069.53H155.10"/>
<path stroke="#262605" d="M155.10 1069.53H211.80"/>
<path stroke="#0c0c51" d="M211.80 1069.53H268.50"/>
<path stroke="#151544" d="M268.50 1069.53H325.20"/>
<path stroke="#26260b" d="M98.40 1109.87H155.10"/>
<path stroke="#262601" d="M155.10 1109.87H211.80"/>
<path stroke="#010161" d="M211.80 1109.87H268.50"/>
<path stroke="#171741" d="M268.50 1109.87H325.20"/>
<path stroke="#26260f" d="M98.40 1150.22H155.10"/>
<path stroke="#262606" d="M155.10 1150.22H211.80"/>
<path stroke="#080856" d="M211.80 1150.22H268.50"/>
<path stroke="#19193e" d="M268.50 1150.22H325.20"/>
<path stroke="#26261e" d="M98.40 1190.56H155.10"/>
<path stroke="#26260a" d="M155.10 1190.56H211.80"/>
<path stroke="#10104a" d="M211.80 1190.56H268.50"/>
<path stroke="#1b1b3a" d="M268.50 1190.56H325.20"/>
<path stroke="#262611" d="M98.40 1230.91H155.10"/>
<path stroke="#26260b" d="M155.10 1230.91H211.80"/>
<path stroke="#141445" d="M211.80 1230.91H268.50"/>
<path stroke="#19193e" d="M268.50 1230.91H325.20"/>
<path stroke="#26260c" d="M98.40 1271.25H155.10"/>
<path stroke="#26260a" d="M155.10 1271.25H211.80"/>
<path stroke="#151544" d="M211.80 1271.25H268.50"/>
<path stroke="#181840" d="M268.50 1271.25H325.20"/>
<path stroke="#26260c" d="M98.40 1311.60H155.10"/>
<path stroke="#262609" d="M155.10 1311.60H211.80"/>
<path stroke="#151544" d="M211.80 1311.60H268.50"/>
<path stroke="#1b1b3b" d="M268.50 1311.60H325.20"/>
<path stroke="#26260b" d="M98.40 1351.82H155.10"/>
<path stroke="#262608" d="M155.10 1351.82H211.80"/>
<path stroke="#18183f" d="M211.80 1351.82H268.50"/>
<path stroke="#1c1c39" d="M268.50 1351.82H325.20"/>
<path stroke="#262609" d="M98.40 1392.04H155.10"/>
<path stroke="#262609" d="M155.10 1392.04H211.80"/>
<path stroke="#1a1a3c" d="M211.80 1392.04H268.50"/>
<path stroke="#19193d" d="M268.50 1392.04H325.20"/>
<path stroke="#262608" d="M98.40 1432.26H155.10"/>
<path stroke="#262609" d="M155.10 1432.26H211.80"/>
<path stroke="#1a1a3c" d="M211.80 1432.26H268.50"/>
<path stroke="#19193e" d="M268.50 1432.26H325.20"/>
<path stroke="#25250e" d="M98.40 1472.48H155.10"/>
<path stroke="#26260d" d="M155.10 1472.48H211.80"/>
<path stroke="#161643" d="M211.80 1472.48H268.50"/>
<path stroke="#171740" d="M268.50 1472.48H325.20"/>
<path stroke="#252528" d="M98.40 1512.70H155.10"/>
<path stroke="#262620" d="M155.10 1512.70H211.80"/>
<path stroke="#131347" d="M211.80 1512.70H268.50"/>
<path stroke="#151544" d="M268.50 1512.70H325.20"/>
<path stroke="#262625" d="M98.40 1552.92H155.10"/>
<path stroke="#262626" d="M155.10 1552.92H211.80"/>
<path stroke="#151544" d="M211.80 1552.92H268.50"/>
<path stroke="#141445" d="M268.50 1552.92H325.20"/>
<path stroke="#262623" d="M98.40 1593.14H155.10"/>
<path stroke="#26262a" d="M155.10 1593.14H211.80"/>
<path stroke="#161642" d="M211.80 1593.14H268.50"/>
<path stroke="#141445" d="M268.50 1593.14H325.20"/>
<path stroke="#262620" d="M98.40 1633.36H155.10"/>
<path stroke="#25252b" d="M155.10 1633.36H211.80"/>
<path stroke="#1a1a3c" d="M211.80 1633.36H268.50"/>
<path stroke="#161643" d="M268.50 1633.36H325.20"/>
<path stroke="#262622" d="M98.40 1673.58H155.10"/>
<path stroke="#25252c" d="M155.10 1673.58H211.80"/>
<path stroke="#1c1c39" d="M211.80 1673.58H268.50"/>
<path stroke="#181840" d="M268.50 1673.58H325.20"/>
<path stroke="#262620" d="M98.40 1713.80H155.10"/>
<path stroke="#252526" d="M155.10 1713.80H211.80"/>
<path stroke="#1b1b3a" d="M211.80 1713.80H268.50"/>
<path stroke="#19193e" d="M268.50 1713.80H325.20"/>
<path stroke="#262619" d="M98.40 1754.02H155.10"/>
<path stroke="#262622" d="M155.10 1754.02H211.80"/>
<path stroke="#1c1c39" d="M211.80 1754.02H268.50"/>
<path stroke="#19193d" d="M268.50 1754.02H325.20"/>
<path stroke="#26261c" d="M98.40 1794.24H155.10"/>
<path stroke="#26261b" d="M155.10 1794.24H211.80"/>
<path stroke="#1b1b3b" d="M211.80 1794.24H268.50"/>
<path stroke="#1b1b3b" d="M268.50 1794.24H325.20"/>
<path stroke="#26261f" d="M98.40 1834.46H155.10"/>
<path stroke="#262611" d="M155.10 1834.46H211.80"/>
<path stroke="#18183f" d="M211.80 1834.46H268.50"/>
<path stroke="#1c1c3a" d="M268.50 1834.46H325.20"/>
<path stroke="#26261f" d="M98.40 1874.68H155.10"/>
<path stroke="#262612" d="M155.10 1874.68H211.80"/>
<path stroke="#18183f" d="M211.80 1874.68H268.50"/>
<path stroke="#1b1b3b" d="M268.50 1874.68H325.20"/>
<path stroke="#262621" d="M98.40 1914.90H155.10"/>
<path stroke="#262614" d="M155.10 1914.90H211.80"/>
<path stroke="#18183f" d="M211.80 1914.90H268.50"/>
<path stroke="#1c1c3a" d="M268.50 1914.90H325.20"/>
<path stroke="#26261a" d="M98.40 1955.12H155.10"/>
<path stroke="#262617" d="M155.10 1955.12H211.80"/>
<path stroke="#19193e" d="M211.80 1955.12H268.50"/>
<path stroke="#1a1a3c" d="M268.50 1955.12H325.20"/>
<path stroke="#262612" d="M98.40 1995.34H155.10"/>
<path stroke="#26261b" d="M155.10 1995.34H211.80"/>
<path stroke="#1b1b3b" d="M211.80 1995.34H268.50"/>
<path stroke="#181840" d="M268.50 1995.34H325.20"/>
<path stroke="#262612" d="M98.40 2035.56H155.10"/>
<path stroke="#26261a" d="M155.10 2035.56H211.80"/>
<path stroke="#1d1d38" d="M211.80 2035.56H268.50"/>
<path stroke="#1a1a3c" d="M268.50 2035.56H325.20"/>
<path stroke="#26260e" d="M98.40 2075.78H155.10"/>
<path stroke="#262612" d="M155.10 2075.78H211.80"/>
<path stroke="#1d1d38" d="M211.80 2075.78H268.50"/>
<path stroke="#1b1b3a" d="M268.50 2075.78H325.20"/>
<path stroke="#262618" d="M98.40 2116.00H155.10"/>
<path stroke="#26261c" d="M155.10 2116.00H211.80"/>
<path stroke="#212132" d="M211.80 2116.00H268.50"/>
<path stroke="#202034" d="M268.50 2116.00H325.20"/>
<path stroke="#161641" d="M98.40 106.00V146.06"/>
<path stroke="#19193e" d="M98.40 146.06V186.12"/>
<path stroke="#161642" d="M98.40 186.12V226.18"/>
<path stroke="#151543" d="M98.40 226.18V266.24"/>
<path stroke="#19193e" d="M98.40 266.24V306.30"/>
<path stroke="#19193e" d="M98.40 306.30V346.36"/>
<path stroke="#1a1a3c" d="M98.40 346.36V386.42"/>
<path stroke="#171740" d="M98.40 386.42V426.48"/>
<path stroke="#181840" d="M98.40 426.48V466.54"/>
<path stroke="#19193e" d="M98.40 466.54V506.60"/>
<path stroke="#1a1a3c" d="M98.40 506.60V546.73"/>
<path stroke="#1a1a3c" d="M98.40 546.73V586.87"/>
<path stroke="#19193e" d="M98.40 586.87V627.00"/>
<path stroke="#19193e" d="M98.40 627.00V667.13"/>
<path stroke="#181840" d="M98.40 667.13V707.27"/>
<path stroke="#171740" d="M98.40 707.27V747.40"/>
<path stroke="#181840" d="M98.40 747.40V787.53"/>
<path stroke="#181840" d="M98.40 787.53V827.67"/>
<path stroke="#171740" d="M98.40 827.67V867.80"/>
<path stroke="#26260a" d="M98.40 867.80V908.15"/>
<path stroke="#26260a" d="M98.40 908.15V948.49"/>
<path stroke="#26260b" d="M98.40 948.49V988.84"/>
<path stroke="#26260d" d="M98.40 988.84V1029.18"/>
<path stroke="#26260d" d="M98.40 1029.18V1069.53"/>
<path stroke="#262616" d="M98.40 1069.53V1109.87"/>
<path stroke="#262616" d="M98.40 1109.87V1150.22"/>
<path stroke="#262624" d="M98.40 1150.22V1190.56"/>
<path stroke="#262626" d="M98.40 1190.56V1230.91"/>
<path stroke="#262616" d="M98.40 1230.91V1271.25"/>
<path stroke="#262616" d="M98.40 1271.25V1311.60"/>
<path stroke="#262619" d="M98.40 1311.60V1351.82"/>
<path stroke="#262611" d="M98.40 1351.82V1392.04"/>
<path stroke="#26260f" d="M98.40 1392.04V1432.26"/>
<path stroke="#26260e" d="M98.40 1432.26V1472.48"/>
<path stroke="#25252c" d="M98.40 1472.48V1512.70"/>
<path stroke="#262627" d="M98.40 1512.70V1552.92"/>
<path stroke="#262629" d="M98.40 1552.92V1593.14"/>
<path stroke="#262625" d="M98.40 1593.14V1633.36"/>
<path stroke="#262626" d="M98.40 1633.36V1673.58"/>
<path stroke="#262627" d="M98.40 1673.58V1713.80"/>
<path stroke="#262624" d="M98.40 1713.80V1754.02"/>
<path stroke="#262620" d="M98.40 1754.02V1794.24"/>
<path stroke="#262627" d="M98.40 1794.24V1834.46"/>
<path stroke="#262623" d="M98.40 1834.46V1874.68"/>
<path stroke="#262627" d="M98.40 1874.68V1914.90"/>
<path stroke="#262625" d="M98.40 1914.90V1955.12"/>
<path stroke="#262620" d="M98.40 1955.12V1995.34"/>
<path stroke="#26261c" d="M98.40 1995.34V2035.56"/>
<path stroke="#262620" d="M98.40 2035.56V2075.78"/>
<path stroke="#262618" d="M98.40 2075.78V2116.00"/>
<path stroke="#0b0b52" d="M155.10 106.00V146.06"/>
<path stroke="#0c0c51" d="M155.10 146.06V186.12"/>
<path stroke="#0a0a54" d="M155.10 186.12V226.18"/>
<path stroke="#02025f" d="M155.10 226.18V266.24"/>
<path stroke="#0b0b52" d="M155.10 266.24V306.30"/>
<path stroke="#0a0a54" d="M155.10 306.30V346.36"/>
<path stroke="#0a0a53" d="M155.10 346.36V386.42"/>
<path stroke="#070759" d="M155.10 386.42V426.48"/>
<path stroke="#070757" d="M155.10 426.48V466.54"/>
<path stroke="#090954" d="M155.10 466.54V506.60"/>
<path stroke="#0c0c50" d="M155.10 506.60V546.73"/>
<path stroke="#0d0d4f" d="M155.10 546.73V586.87"/>
<path stroke="#0a0a53" d="M155.10 586.87V627.00"/>
<path stroke="#0a0a54" d="M155.10 627.00V667.13"/>
<path stroke="#0a0a54" d="M155.10 667.13V707.27"/>
<path stroke="#080856" d="M155.10 707.27V747.40"/>
<path stroke="#0a0a54" d="M155.10 747.40V787.53"/>
<path stroke="#080856" d="M155.10 787.53V827.67"/>
<path stroke="#080856" d="M155.10 827.67V867.80"/>
<path stroke="#262605" d="M155.10 867.80V908.15"/>
<path stroke="#262607" d="M155.10 908.15V948.49"/>
<path stroke="#262602" d="M155.10 948.49V988.84"/>
<path stroke="#262607" d="M155.10 988.84V1029.18"/>
<path stroke="#262608" d="M155.10 1029.18V1069.53"/>
<path stroke="#262606" d="M155.10 1069.53V1109.87"/>
<path stroke="#262607" d="M155.10 1109.87V1150.22"/>
<path stroke="#26260d" d="M155.10 1150.22V1190.56"/>
<path stroke="#26260f" d="M155.10 1190.56V1230.91"/>
<path stroke="#26260b" d="M155.10 1230.91V1271.25"/>
<path stroke="#26260a" d="M155.10 1271.25V1311.60"/>
<path stroke="#26260a" d="M155.10 1311.60V1351.82"/>
<path stroke="#262609" d="M155.10 1351.82V1392.04"/>
<path stroke="#262608" d="M155.10 1392.04V1432.26"/>
<path stroke="#262608" d="M155.10 1432.26V1472.48"/>
<path stroke="#252526" d="M155.10 1472.48V1512.70"/>
<path stroke="#262622" d="M155.10 1512.70V1552.92"/>
<path stroke="#262629" d="M155.10 1552.92V1593.14"/>
<path stroke="#262624" d="M155.10 1593.14V1633.36"/>
<path stroke="#252527" d="M155.10 1633.36V1673.58"/>
<path stroke="#252528" d="M155.10 1673.58V1713.80"/>
<path stroke="#26261e" d="M155.10 1713.80V1754.02"/>
<path stroke="#26261d" d="M155.10 1754.02V1794.24"/>
<path stroke="#26261a" d="M155.10 1794.24V1834.46"/>
<path stroke="#262615" d="M155.10 1834.46V1874.68"/>
<path stroke="#26261b" d="M155.10 1874.68V1914.90"/>
<path stroke="#26261a" d="M155.10 1914.90V1955.12"/>
<path stroke="#262617" d="M155.10 1955.12V1995.34"/>
<path stroke="#262615" d="M155.10 1995.34V2035.56"/>
<path stroke="#262616" d="M155.10 2035.56V2075.78"/>
<path stroke="#26260d" d="M155.10 2075.78V2116.00"/>
<path stroke="#151544" d="M211.80 106.00V146.06"/>
<path stroke="#161643" d="M211.80 146.06V186.12"/>
<path stroke="#0f0f4d" d="M211.80 186.12V226.18"/>
<path stroke="#0c0c50" d="M211.80 226.18V266.24"/>
<path stroke="#0f0f4c" d="M211.80 266.24V306.30"/>
<path stroke="#10104b" d="M211.80 306.30V346.36"/>
<path stroke="#10104b" d="M211.80 346.36V386.42"/>
<path stroke="#0f0f4c" d="M211.80 386.42V426.48"/>
<path stroke="#0f0f4c" d="M211.80 426.48V466.54"/>
<path stroke="#10104a" d="M211.80 466.54V506.60"/>
<path stroke="#111149" d="M211.80 506.60V546.73"/>
<path stroke="#121247" d="M211.80 546.73V586.87"/>
<path stroke="#111149" d="M211.80 586.87V627.00"/>
<path stroke="#121249" d="M211.80 627.00V667.13"/>
<path stroke="#10104a" d="M211.80 667.13V707.27"/>
<path stroke="#0f0f4c" d="M211.80 707.27V747.40"/>
<path stroke="#11114a" d="M211.80 747.40V787.53"/>
<path stroke="#10104b" d="M211.80 787.53V827.67"/>
<path stroke="#10104b" d="M211.80 827.67V867.80"/>
<path stroke="#26260d" d="M211.80 867.80V908.15"/>
<path stroke="#262611" d="M211.80 908.15V948.49"/>
<path stroke="#20200b" d="M211.80 948.49V988.84"/>
<path stroke="#1f1f18" d="M211.80 988.84V1029.18"/>
<path stroke="#1e1e1c" d="M211.80 1029.18V1069.53"/>
<path stroke="#141415" d="M211.80 1069.53V1109.87"/>
<path stroke="#13131a" d="M211.80 1109.87V1150.22"/>
<path stroke="#1b1b22" d="M211.80 1150.22V1190.56"/>
<path stroke="#1b1b23" d="M211.80 1190.56V1230.91"/>
<path stroke="#1e1e1f" d="M211.80 1230.91V1271.25"/>
<path stroke="#1c1c1e" d="M211.80 1271.25V1311.60"/>
<path stroke="#1e1e19" d="M211.80 1311.60V1351.82"/>
<path stroke="#202018" d="M211.80 1351.82V1392.04"/>
<path stroke="#202017" d="M211.80 1392.04V1432.26"/>
<path stroke="#202018" d="M211.80 1432.26V1472.48"/>
<path stroke="#1c1c34" d="M211.80 1472.48V1512.70"/>
<path stroke="#1d1d33" d="M211.80 1512.70V1552.92"/>
<path stroke="#1e1e37" d="M211.80 1552.92V1593.14"/>
<path stroke="#1e1e35" d="M211.80 1593.14V1633.36"/>
<path stroke="#212132" d="M211.80 1633.36V1673.58"/>
<path stroke="#202033" d="M211.80 1673.58V1713.80"/>
<path stroke="#21212d" d="M211.80 1713.80V1754.02"/>
<path stroke="#22222e" d="M211.80 1754.02V1794.24"/>
<path stroke="#1f1f29" d="M211.80 1794.24V1834.46"/>
<path stroke="#1f1f27" d="M211.80 1834.46V1874.68"/>
<path stroke="#1f1f2a" d="M211.80 1874.68V1914.90"/>
<path stroke="#1f1f29" d="M211.80 1914.90V1955.12"/>
<path stroke="#1f1f2c" d="M211.80 1955.12V1995.34"/>
<path stroke="#21212b" d="M211.80 1995.34V2035.56"/>
<path stroke="#222227" d="M211.80 2035.56V2075.78"/>
<path stroke="#212123" d="M211.80 2075.78V2116.00"/>
<path stroke="#1f1f35" d="M268.50 106.00V146.06"/>
<path stroke="#1f1f35" d="M268.50 146.06V186.12"/>
<path stroke="#121247" d="M268.50 186.12V226.18"/>
<path stroke="#161641" d="M268.50 226.18V266.24"/>
<path stroke="#131347" d="M268.50 266.24V306.30"/>
<path stroke="#161643" d="M268.50 306.30V346.36"/>
<path stroke="#151543" d="M268.50 346.36V386.42"/>
<path stroke="#181840" d="M268.50 386.42V426.48"/>
<path stroke="#171741" d="M268.50 426.48V466.54"/>
<path stroke="#171740" d="M268.50 466.54V506.60"/>
<path stroke="#161641" d="M268.50 506.60V546.73"/>
<path stroke="#171740" d="M268.50 546.73V586.87"/>
<path stroke="#18183f" d="M268.50 586.87V627.00"/>
<path stroke="#19193d" d="M268.50 627.00V667.13"/>
<path stroke="#171741" d="M268.50 667.13V707.27"/>
<path stroke="#161641" d="M268.50 707.27V747.40"/>
<path stroke="#181840" d="M268.50 747.40V787.53"/>
<path stroke="#18183f" d="M268.50 787.53V827.67"/>
<path stroke="#171740" d="M268.50 827.67V867.80"/>
<path stroke="#20202d" d="M268.50 867.80V908.15"/>
<path stroke="#1f1f2a" d="M268.50 908.15V948.49"/>
<path stroke="#19193e" d="M268.50 948.49V988.84"/>
<path stroke="#161641" d="M268.50 988.84V1029.18"/>
<path stroke="#141445" d="M268.50 1029.18V1069.53"/>
<path stroke="#0d0d4f" d="M268.50 1069.53V1109.87"/>
<path stroke="#0b0b52" d="M268.50 1109.87V1150.22"/>
<path stroke="#161641" d="M268.50 1150.22V1190.56"/>
<path stroke="#151543" d="M268.50 1190.56V1230.91"/>
<path stroke="#181840" d="M268.50 1230.91V1271.25"/>
<path stroke="#151544" d="M268.50 1271.25V1311.60"/>
<path stroke="#1b1b3b" d="M268.50 1311.60V1351.82"/>
<path stroke="#1a1a3c" d="M268.50 1351.82V1392.04"/>
<path stroke="#1a1a3c" d="M268.50 1392.04V1432.26"/>
<path stroke="#19193e" d="M268.50 1432.26V1472.48"/>
<path stroke="#141445" d="M268.50 1472.48V1512.70"/>
<path stroke="#141445" d="M268.50 1512.70V1552.92"/>
<path stroke="#151544" d="M268.50 1552.92V1593.14"/>
<path stroke="#151543" d="M268.50 1593.14V1633.36"/>
<path stroke="#1a1a3c" d="M268.50 1633.36V1673.58"/>
<path stroke="#19193d" d="M268.50 1673.58V1713.80"/>
<path stroke="#1b1b3b" d="M268.50 1713.80V1754.02"/>
<path stroke="#1b1b3b" d="M268.50 1754.02V1794.24"/>
<path stroke="#1a1a3c" d="M268.50 1794.24V1834.46"/>
<path stroke="#19193d" d="M268.50 1834.46V1874.68"/>
<path stroke="#19193d" d="M268.50 1874.68V1914.90"/>
<path stroke="#1b1b3b" d="M268.50 1914.90V1955.12"/>
<path stroke="#18183f" d="M268.50 1955.12V1995.34"/>
<path stroke="#1a1a3c" d="M268.50 1995.34V2035.56"/>
<path stroke="#1d1d38" d="M268.50 2035.56V2075.78"/>
<path stroke="#1b1b3b" d="M268.50 2075.78V2116.00"/>
<path stroke="#24242e" d="M325.20 106.00V146.06"/>
<path stroke="#222230" d="M325.20 146.06V186.12"/>
<path stroke="#1e1e37" d="M325.20 186.12V226.18"/>
<path stroke="#1d1d38" d="M325.20 226.18V266.24"/>
<path stroke="#1c1c39" d="M325.20 266.24V306.30"/>
<path stroke="#1d1d38" d="M325.20 306.30V346.36"/>
<path stroke="#1c1c3a" d="M325.20 346.36V386.42"/>
<path stroke="#1e1e37" d="M325.20 386.42V426.48"/>
<path stroke="#1d1d38" d="M325.20 426.48V466.54"/>
<path stroke="#1d1d38" d="M325.20 466.54V506.60"/>
<path stroke="#1e1e37" d="M325.20 506.60V546.73"/>
<path stroke="#1e1e36" d="M325.20 546.73V586.87"/>
<path stroke="#1e1e36" d="M325.20 586.87V627.00"/>
<path stroke="#1f1f35" d="M325.20 627.00V667.13"/>
<path stroke="#1e1e36" d="M325.20 667.13V707.27"/>
<path stroke="#1e1e36" d="M325.20 707.27V747.40"/>
<path stroke="#1f1f35" d="M325.20 747.40V787.53"/>
<path stroke="#1e1e36" d="M325.20 787.53V827.67"/>
<path stroke="#1e1e36" d="M325.20 827.67V867.80"/>
<path stroke="#202033" d="M325.20 867.80V908.15"/>
<path stroke="#1f1f35" d="M325.20 908.15V948.49"/>
<path stroke="#1f1f35" d="M325.20 948.49V988.84"/>
<path stroke="#1e1e37" d="M325.20 988.84V1029.18"/>
<path stroke="#1c1c3a" d="M325.20 1029.18V1069.53"/>
<path stroke="#1f1f35" d="M325.20 1069.53V1109.87"/>
<path stroke="#1e1e37" d="M325.20 1109.87V1150.22"/>
<path stroke="#212131" d="M325.20 1150.22V1190.56"/>
<path stroke="#202034" d="M325.20 1190.56V1230.91"/>
<path stroke="#1f1f35" d="M325.20 1230.91V1271.25"/>
<path stroke="#1e1e36" d="M325.20 1271.25V1311.60"/>
<path stroke="#222230" d="M325.20 1311.60V1351.82"/>
<path stroke="#202034" d="M325.20 1351.82V1392.04"/>
<path stroke="#1f1f34" d="M325.20 1392.04V1432.26"/>
<path stroke="#1f1f35" d="M325.20 1432.26V1472.48"/>
<path stroke="#1e1e36" d="M325.20 1472.48V1512.70"/>
<path stroke="#1d1d38" d="M325.20 1512.70V1552.92"/>
<path stroke="#1d1d38" d="M325.20 1552.92V1593.14"/>
<path stroke="#1d1d38" d="M325.20 1593.14V1633.36"/>
<path stroke="#1f1f35" d="M325.20 1633.36V1673.58"/>
<path stroke="#1f1f35" d="M325.20 1673.58V1713.80"/>
<path stroke="#202033" d="M325.20 1713.80V1754.02"/>
<path stroke="#1f1f35" d="M325.20 1754.02V1794.24"/>
<path stroke="#212131" d="M325.20 1794.24V1834.46"/>
<path stroke="#202033" d="M325.20 1834.46V1874.68"/>
<path stroke="#212133" d="M325.20 1874.68V1914.90"/>
<path stroke="#212132" d="M325.20 1914.90V1955.12"/>
<path stroke="#1f1f35" d="M325.20 1955.12V1995.34"/>
<path stroke="#1f1f35" d="M325.20 1995.34V2035.56"/>
<path stroke="#212131" d="M325.20 2035.56V2075.78"/>
<path stroke="#202034" d="M325.20 2075.78V2116.00"/>
</g>
<g class="rl" transform="scale(0.96 1)">
<text x="346.9 359.0 369.9 376.6 389.4 400.2 411.8 423.4 434.9 446.5 458.1 469.6 481.2 492.7 505.5 513.6 524.7 531.3 548.1 561.7" y="135.8">Solyc05g005540.3-GP3</text>
<text x="346.9 359.0 369.9 376.6 389.4 400.2 411.8 423.4 434.9 446.5 458.1 469.6 481.2 492.7 505.5 513.6 524.7 531.4 550.8 565.0 578.6 590.1 601.7" y="176.0">Solyc09g014530.3-MLP168</text>
<text x="346.9 359.0 369.9 376.6 389.4 400.2 411.8 423.4 434.9 446.5 458.1 469.6 481.2 492.7 505.5 513.6 524.7 532.6 545.6 552.3 559.0" y="216.2">Solyc09g084450.3-PIIF</text>
<text x="346.9 359.0 369.9 376.6 389.4 400.2 411.8 423.4 434.9 446.5 458.1 469.6 481.2 492.7 505.5 513.6 524.7 531.6 547.6 567.5 581.5" y="256.4">Solyc12g040790.2-NMT2</text>
<text x="346.9 359.0 369.9 376.6 389.4 400.2 411.8 423.4 434.9 446.5 458.1 469.6 481.2 492.7 505.5 513.6 524.7 532.6 545.6 552.6 569.0" y="296.6">Solyc11g020960.2-PIN2</text>
<text x="346.9 359.0 369.9 376.6 389.4 400.2 411.8 423.4 434.9 446.5 458.1 469.6 481.2 492.7 505.5 513.6 524.7 532.6 545.5 560.6 575.0" y="336.8">Solyc12g013710.2-POR1</text>
<text x="346.9 359.0 369.9 376.6 389.4 400.2 411.8 423.4 434.9 446.5 458.1 469.6 481.2 492.7 505.5 513.6 524.7 531.4 542.7 557.7 573.7" y="377.0">Solyc12g044950.2-FAD2</text>
<text x="346.9 359.0 369.9 376.6 389.4 400.2 411.8 423.4 434.9 446.5 458.1 469.6 481.2 492.7 505.5 513.6 524.7 531.3 543.8 558.9 572.7 588.3" y="417.2">Solyc06g069730.3-LHCA4</text>
<text x="346.9 359.0 369.9 376.6 389.4 400.2 411.8 423.4 434.9 446.5 458.1 469.6 481.2 492.7 505.5 513.6 524.7 531.4 543.9 558.5 572.3 585.2 592.4" y="457.4">Solyc08g078900.1-EARLI1</text>
<text x="346.9 359.0 369.9 376.6 389.4 400.2 411.8 423.4 434.9 446.5 458.1 469.6 481.2 492.7 505.5 513.6 524.7 532.6 545.5 561.0 575.8" y="497.6">Solyc09g008860.3-PXC1</text>
<text x="346.9 359.0 369.9 376.6 389.4 400.2 411.8 423.4 434.9 446.5 458.1 469.6 481.2 492.7 505.5 513.6 524.7 530.9 545.9 558.9 574.9" y="537.8">Solyc01g096450.3-AED3</text>
<text x="346.9 359.0 369.9 376.6 389.4 400.2 411.8 423.4 434.9 446.5 458.1 469.6 481.2 492.7 505.5 513.6 524.7 531.4 543.1 555.5 571.2" y="578.0">Solyc07g045440.1-FLA2</text>
<text x="346.9 359.0 369.9 376.6 389.4 400.2 411.8 423.4 434.9 446.5 458.1 469.6 481.2 492.7 505.5 513.6 524.7 530.9 544.8 560.2 573.0 589.1 600.6" y="618.2">Solyc03g031730.3-BGLU47</text>
<text x="346.9 359.0 369.9 376.6 389.4 400.2 411.8 423.4 434.9 446.5 458.1 469.6 481.2 492.7 505.5 513.6 524.7 531.6 547.5 553.7" y="658.4">Solyc11g013810.2-NIA</text>
<text x="346.9 359.0 369.9 376.6 389.4 400.2 411.8 423.4 434.9 446.5 458.1 469.6 481.2 492.7 505.5 513.6 524.7 531.4 544.3 559.7 573.1" y="698.6">Solyc02g068877.1-EXL7</text>
<text x="346.9 359.0 369.9 376.6 389.4 400.2 411.8 423.4 434.9 446.5 458.1 469.6 481.2 492.7 505.5 513.6 524.7 530.9 547.2 560.7 573.5" y="738.8">Solyc06g062380.3-APS1</text>
<text x="346.9 359.0 369.9 376.6 389.4 400.2 411.8 423.4 434.9 446.5 458.1 469.6 481.2 492.7 505.5 513.6 524.7 531.3 546.4 561.9 575.2 588.7" y="779.0">Solyc02g065530.3-GATL1</text>
<text x="346.9 359.0 369.9 376.6 389.4 400.2 411.8 423.4 434.9 446.5 458.1 469.6 481.2 492.7 505.5 513.6 524.7 531.3 546.8 560.0 576.4 588.5 596.8" y="819.2">Solyc04g014510.3-GLN1-1</text>
<text x="346.9 359.0 369.9 376.6 389.4 400.2 411.8 423.4 434.9 446.5 458.1 469.6 481.2 492.7 505.5 513.6 524.7 532.6 545.7 565.2 578.3 585.4" y="859.4">Solyc12g009270.1-PMEI3</text>
<text x="346.9 359.0 369.9 376.6 389.4 400.2 411.8 423.4 434.9 446.5 458.1 469.6 481.2 492.7 505.5 513.6 524.7 531.3 546.3 559.7 576.0 589.6 600.1" y="899.6">Solyc03g005940.3-OBAP2A</text>
<text x="346.9 359.0 369.9 376.6 389.4 400.2 411.8 423.4 434.9 446.5 458.1 469.6 481.2 492.7 505.5 513.6 524.7 531.9 544.1 559.6 572.5 586.0 597.5" y="939.8">Solyc04g079047.1-SCPL10</text>
<text x="346.9 359.0 369.9 376.6 389.4 400.2 411.8 423.4 434.9 446.5 458.1 469.6 481.2 492.7 505.5 513.6 524.7 532.6 545.2 559.6 570.2 584.6" y="980.0">Solyc01g106620.2-PR1B1</text>
<text x="346.9 359.0 369.9 376.6 389.4 400.2 411.8 423.4 434.9 446.5 458.1 469.6 481.2 492.7 505.5 513.6 524.7 531.0 546.6 560.2 573.7 585.3" y="1020.2">Solyc04g072250.3-HSP18</text>
<text x="346.9 359.0 369.9 376.6 389.4 400.2 411.8 423.4 434.9 446.5 458.1 469.6 481.2 492.7 505.5 513.6 524.7 530.9 546.0 566.8 580.3 592.5 600.8" y="1060.4">Solyc09g082340.2-AMP2-1</text>
<text x="346.9 359.0 369.9 376.6 389.4 400.2 411.8 423.4 434.9 446.5 458.1 469.6 481.2 492.7 505.5 513.6 524.7 531.0 546.2 559.1 573.9" y="1100.6">Solyc03g044460.1-HEC2</text>
<text x="346.9 359.0 369.9 376.6 389.4 400.2 411.8 423.4 434.9 446.5 458.1 469.6 481.2 492.7 505.5 513.6 524.7 531.9 544.0 560.0" y="1140.8">Solyc07g007710.3-SD2</text>
<text x="346.9 359.0 369.9 376.6 389.4 400.2 411.8 423.4 434.9 446.5 458.1 469.6 481.2 492.7 505.5 513.6 524.7 531.9 543.6 558.7 574.8 586.3" y="1181.0">Solyc02g076910.3-SAG12</text>
<text x="346.9 359.0 369.9 376.6 389.4 400.2 411.8 423.4 434.9 446.5 458.1 469.6 481.2 492.7 505.5 513.6 524.7 531.7 552.3 566.1 581.0 596.7 608.2" y="1221.2">Solyc05g015850.3-WRKY75</text>
<text x="346.9 359.0 369.9 376.6 389.4 400.2 411.8 423.4 434.9 446.5 458.1 469.6 481.2 492.7 505.5 513.6 524.7 531.9 543.7 557.5 573.6" y="1261.4">Solyc02g071430.3-SRG1</text>
<text x="346.9 359.0 369.9 376.6 389.4 400.2 411.8 423.4 434.9 446.5 458.1 469.6 481.2 492.7 505.5 513.6 524.7 531.8 545.2 553.1 566.7 578.8 587.1" y="1301.6">Solyc06g072130.3-TIP3-2</text>
<text x="346.9 359.0 369.9 376.6 389.4 400.2 411.8 423.4 434.9 446.5 458.1 469.6 481.2 492.7 505.5 513.6 524.7 530.9 544.7 560.1 573.5" y="1341.8">Solyc11g044910.2-BXL1</text>
<text x="346.9 359.0 369.9 376.6 389.4 400.2 411.8 423.4 434.9 446.5 458.1 469.6 481.2 492.7 505.5 513.6 524.7 531.3 544.2 557.7 569.3" y="1382.0">Solyc10g078770.2-LE25</text>
<text x="346.9 359.0 369.9 376.6 389.4 400.2 411.8 423.4 434.9 446.5 458.1 469.6 481.2 492.7 505.5 513.6 524.7 531.8 545.2 553.1 566.7 578.8 587.1" y="1422.2">Solyc03g019820.3-TIP3-2</text>
<text x="346.9 359.0 369.9 376.6 389.4 400.2 411.8 423.4 434.9 446.5 458.1 469.6 481.2 492.7 505.5 513.6 524.7 531.3 544.6 558.0 565.2 576.8" y="1462.4">Solyc03g025810.3-LTI65</text>
<text x="346.9 359.0 369.9 376.6 389.4 400.2 411.8 423.4 434.9 446.5 458.1 469.6 481.2 492.7 505.5 513.6 524.7 532.6 545.1 559.8 573.6" y="1502.6">Solyc12g011310.2-PARC</text>
<text x="346.9 359.0 369.9 376.6 389.4 400.2 411.8 423.4 434.9 446.5 458.1 469.6 481.2 492.7 505.5 513.6 524.7 531.4 544.3 559.7 572.1 586.6" y="1542.8">Solyc06g060970.2-EXLB1</text>
<text x="346.9 359.0 369.9 376.6 389.4 400.2 411.8 423.4 434.9 446.5 458.1 469.6 481.2 492.7 505.5 513.6 524.7 531.8 544.7 560.3 573.1 584.7" y="1583.0">Solyc02g084850.3-TAS14</text>
<text x="346.9 359.0 369.9 376.6 389.4 400.2 411.8 423.4 434.9 446.5 458.1 469.6 481.2 492.7 505.5 513.6 524.7 531.0 546.2 554.1 568.3 581.9 593.5" y="1623.2">Solyc04g007630.2-HIPP20</text>
<text x="346.9 359.0 369.9 376.6 389.4 400.2 411.8 423.4 434.9 446.5 458.1 469.6 481.2 492.7 505.5 513.6 524.7 531.7 552.7 559.7 576.1" y="1663.4">Solyc01g097270.3-WIN2</text>
<text x="346.9 359.0 369.9 376.6 389.4 400.2 411.8 423.4 434.9 446.5 458.1 469.6 481.2 492.7 505.5 513.6 524.7 531.3 545.2 560.8 573.8 588.2" y="1703.6">Solyc10g055800.2-CHTB3</text>
<text x="346.9 359.0 369.9 376.6 389.4 400.2 411.8 423.4 434.9 446.5 458.1 469.6 481.2 492.7 505.5 513.6 524.7 532.6 545.2 559.6 570.2 584.6" y="1743.8">Solyc00g174340.2-PR1B1</text>
<text x="346.9 359.0 369.9 376.6 389.4 400.2 411.8 423.4 434.9 446.5 458.1 469.6 481.2 492.7 505.5 513.6 524.7 531.8 546.5 559.6 580.2 588.5" y="1784.0">Solyc08g080650.3-TPM-1</text>
<text x="346.9 359.0 369.9 376.6 389.4 400.2 411.8 423.4 434.9 446.5 458.1 469.6 481.2 492.7 505.5 513.6 524.7 531.6 547.0 562.0 576.9 588.4 600.0" y="1824.2">Solyc04g005610.3-NAC029</text>
<text x="346.9 359.0 369.9 376.6 389.4 400.2 411.8 423.4 434.9 446.5 458.1 469.6 481.2 492.7 505.5 513.6 524.7 531.3 545.5 560.5 575.0" y="1864.4">Solyc03g098100.3-COR2</text>
<text x="346.9 359.0 369.9 376.6 389.4 400.2 411.8 423.4 434.9 446.5 458.1 469.6 481.2 492.7 505.5 513.6 524.7 531.4 538.3 554.7 566.3" y="1904.6">Solyc01g067300.3-IN26</text>
<text x="346.9 359.0 369.9 376.6 389.4 400.2 411.8 423.4 434.9 446.5 458.1 469.6 481.2 492.7 505.5 513.6 524.7 531.3 545.1 561.4 575.0 586.5 597.1 612.7" y="1944.8">Solyc10g083690.3-CYP76A2</text>
<text x="346.9 359.0 369.9 376.6 389.4 400.2 411.8 423.4 434.9 446.5 458.1 469.6 481.2 492.7 505.5 513.6 524.7 531.9 544.5 558.5 571.3" y="1985.0">Solyc01g079300.3-STS1</text>
<text x="346.9 359.0 369.9 376.6 389.4 400.2 411.8 423.4 434.9 446.5 458.1 469.6 481.2 492.7 505.5 513.6 524.7 531.4 550.9 564.5" y="2025.2">Solyc12g008430.2-ME1</text>
<text x="346.9 359.0 369.9 376.6 389.4 400.2 411.8 423.4 434.9 446.5 458.1 469.6 481.2 492.7 505.5 513.6 524.7 530.9 546.4" y="2065.4">Solyc06g007180.3-AS</text>
<text x="346.9 359.0 369.9 376.6 389.4 400.2 411.8 423.4 434.9 446.5 458.1 469.6 481.2 492.7 505.5 513.6 524.7 530.9 547.2 560.8 572.3" y="2105.6">Solyc08g080640.2-AP24</text>
</g>
<rect x="619.3" y="137.8" width="28.4" height="239" fill="url(#lg)" stroke="#111" stroke-width="1.5"/>
<g class="sl" transform="scale(0.93 1)">
<text x="706.3 716.1 727.2 732.9 742.8" y="144.9">15.00</text>
<text x="706.3 716.1 727.2 732.9 742.8" y="174.8">12.00</text>
<text x="706.3 717.4 723.1 732.9" y="204.6">9.00</text>
<text x="706.3 717.4 723.1 732.9" y="234.5">6.00</text>
<text x="706.3 717.4 723.1 732.9" y="264.3">3.00</text>
<text x="706.3 717.4 723.1 732.9" y="294.1">0.00</text>
<text x="706.5 713.2 724.4 730.1 739.9" y="324.0">-3.00</text>
<text x="706.5 713.2 724.4 730.1 739.9" y="353.9">-6.00</text>
<text x="706.5 713.2 724.4 730.1 739.9" y="383.7">-9.00</text>
</g>
<g class="cl">
<text transform="translate(101.8 2145.5) rotate(45)" x="0" y="0">R-3dpi vs. R-mock</text>
<text transform="translate(161.2 2145.5) rotate(45)" x="0" y="0">S-3dpi vs. S-mock</text>
<text transform="translate(220.8 2145.5) rotate(45)" x="0" y="0">R-mock vs. S-mock</text>
<text transform="translate(280.2 2145.5) rotate(45)" x="0" y="0">R-3dpi vs. S-3dpi</text>
</g>
</svg></body></html>
